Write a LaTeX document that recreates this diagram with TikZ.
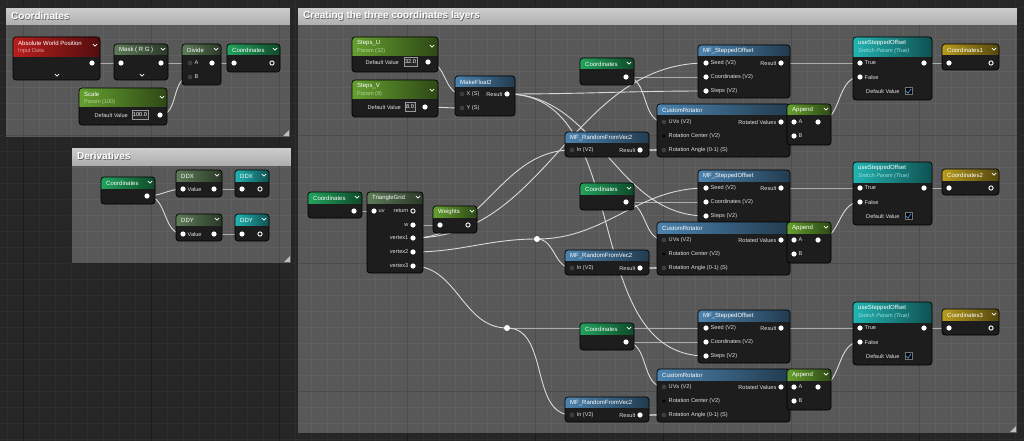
\documentclass[tikz,border=0pt]{standalone}
\usepackage{fontspec}
\setmainfont{Liberation Sans}
\definecolor{canvas}{HTML}{262626}
\definecolor{canvasgrid}{HTML}{2E2E2E}
\definecolor{canvasmajor}{HTML}{1C1C1C}
\definecolor{boxfill}{HTML}{585858}
\definecolor{boxgrid}{HTML}{606060}
\definecolor{boxmajor}{HTML}{4C4C4C}
\definecolor{titlebar}{HTML}{C2C2C2}
\definecolor{nodebg}{HTML}{1D1D1D}
\definecolor{wirecol}{HTML}{DADADA}
\definecolor{pinoff}{HTML}{3E3E3E}
\definecolor{hdred}{HTML}{B81E1E}
\definecolor{hdfunc}{HTML}{5E7C58}
\definecolor{hdcoord}{HTML}{22A35C}
\definecolor{hdparam}{HTML}{65A030}
\definecolor{hdblue}{HTML}{4C83AE}
\definecolor{hdteal}{HTML}{22B4B2}
\definecolor{hdgold}{HTML}{B89C1E}
\definecolor{checkblue}{HTML}{3D8FE0}

\tikzset{
  head/.style={anchor=west, inner sep=0pt, text=white, font=\fontsize{6}{7}\selectfont},
  subhead/.style={anchor=west, inner sep=0pt, font=\fontsize{5.6}{6}\selectfont},
  inl/.style={anchor=west, inner sep=0pt, text=white!88!black, font=\fontsize{5.6}{7}\selectfont},
  outl/.style={inl, anchor=east},
  valbox/.style={draw=white!60!black, fill=black!85, line width=0.4pt, inner sep=1pt,
    minimum height=9pt, text=white, font=\fontsize{5.6}{6}\selectfont},
  wire/.style={draw=wirecol, line width=0.9pt},
  link/.style={out=0, in=180},
  boxtitle/.style={anchor=west, inner sep=0pt, font=\fontsize{10}{12}\selectfont\bfseries},
}

% comment box: name, x1, y1, x2, y2, title
\newcommand{\uecomment}[6]{%
  \fill[boxfill] (#2,#3) rectangle (#4,#5);
  \begin{scope}
    \clip (#2,#3) rectangle (#4,#5);
    \foreach \gx in {7,23,...,1023} \draw[boxgrid, line width=0.4pt] (\gx,0) -- (\gx,441);
    \foreach \gy in {7,23,...,439} \draw[boxgrid, line width=0.4pt] (0,\gy) -- (1024,\gy);
    \foreach \gx in {23,151,...,1023} \draw[boxmajor, line width=0.6pt] (\gx,0) -- (\gx,441);
    \foreach \gy in {135,263,391} \draw[boxmajor, line width=0.6pt] (0,\gy) -- (1024,\gy);
  \end{scope}
  \shade[top color=titlebar!80!white, bottom color=titlebar!90!black] (#2,#3) rectangle (#4,#3+18);
  \draw[black!85, line width=1.2pt] (#2,#3) rectangle (#4,#5);
  \node[boxtitle, text=black!60] (#1-shadow) at (#2+6.7,#3+10) {#6};
  \node[boxtitle, text=white] (#1) at (#2+6,#3+9.3) {#6};
  \fill[white!75!black] (#4-2,#5-8) -- (#4-2,#5-2) -- (#4-8,#5-2) -- cycle;
}

% graph node: name, x1, y1, x2, y2, header bottom, colour, title
\newcommand{\uenode}[8]{%
  \fill[nodebg, rounded corners=3pt] (#2,#3) rectangle (#4,#5);
  \begin{scope}
    \clip[rounded corners=3pt] (#2,#3) rectangle (#4,#5);
    \shade[left color=#7, right color=#7!45!black] (#2,#3) rectangle (#4,#6);
  \end{scope}
  \draw[black, line width=0.7pt, rounded corners=3pt] (#2,#3) rectangle (#4,#5);
  \node[head] (#1) at (#2+5,#3+6) {#8};
}
\newcommand{\chev}[2]{\draw[white, line width=0.7pt] (#1-2.2,#2-1) -- (#1,#2+1.2) -- (#1+2.2,#2-1);}
\newcommand{\pinon}[1]{\fill[white] (#1) circle (2.6);}
\newcommand{\pinoff}[1]{\fill[pinoff] (#1) circle (2.4);}
\newcommand{\pinring}[1]{\draw[white, line width=0.9pt] (#1) circle (2.1);}
\newcommand{\inlabel}[2]{\node[inl] (#1-l) at ([xshift=4.5pt]#1) {#2};}
\newcommand{\outlabel}[2]{\node[outl] (#1-l) at ([xshift=-4.5pt]#1) {#2};}

\begin{document}
\begin{tikzpicture}[x=1pt, y=-1pt]
  \useasboundingbox (0,0) rectangle (1024,441);
  % canvas
  \fill[canvas] (0,0) rectangle (1024,441);
  \foreach \gx in {7,23,...,1023} \draw[canvasgrid, line width=0.4pt] (\gx,0) -- (\gx,441);
  \foreach \gy in {7,23,...,439} \draw[canvasgrid, line width=0.4pt] (0,\gy) -- (1024,\gy);
  \foreach \gx in {23,151,...,1023} \draw[canvasmajor, line width=0.6pt] (\gx,0) -- (\gx,441);

  % comment boxes
  \uecomment{grpcoord}{5}{7}{291}{138}{Coordinates}
  \uecomment{grpderiv}{71}{147}{292}{264}{Derivatives}
  \uecomment{grplayers}{297}{7}{1018}{434}{Creating the three coordinates layers}

  % pins
  \coordinate (awp-o) at (92,63);
  \coordinate (msk-i) at (121,63);
  \coordinate (msk-o) at (161,63);
  \coordinate (div-a) at (190,63);
  \coordinate (div-b) at (190,77);
  \coordinate (div-o) at (212,63);
  \coordinate (cdec-i) at (234,63);
  \coordinate (cdec-o) at (272,63);
  \coordinate (scl-o) at (160,115);

  \coordinate (cdx-o) at (147,196);
  \coordinate (ddx-i) at (183,189);
  \coordinate (ddx-o) at (214,189);
  \coordinate (rdx-i) at (242,189);
  \coordinate (rdx-o) at (260,189);
  \coordinate (ddy-i) at (183,234);
  \coordinate (ddy-o) at (214,234);
  \coordinate (rdy-i) at (242,234);
  \coordinate (rdy-o) at (260,234);

  \coordinate (su-o) at (428,62);
  \coordinate (sv-o) at (425,107);
  \coordinate (mf-x) at (462,94);
  \coordinate (mf-y) at (462,108);
  \coordinate (mf-o) at (507,94);
  \coordinate (cl-o) at (354,211);
  \coordinate (tg-uv) at (374,211);
  \coordinate (tg-ret) at (413,211);
  \coordinate (tg-w) at (413,225);
  \coordinate (tg-v1) at (413,238);
  \coordinate (tg-v2) at (413,252);
  \coordinate (tg-v3) at (413,266);
  \coordinate (wt-i) at (440,225);
  \coordinate (wt-o) at (468,225);
  \coordinate (rr1) at (537,239);
  \coordinate (rr2) at (507,328);

  \foreach \i/\ya/\yb in {1/0/0, 2/125/118, 3/265/265} {
    \coordinate (crd\i-o) at (626,77+\ya);
    \coordinate (so\i-seed) at (706,63+\ya);
    \coordinate (so\i-crd) at (706,77+\ya);
    \coordinate (so\i-stp) at (706,91+\ya);
    \coordinate (so\i-o) at (781,63+\ya);
    \coordinate (cr\i-uv) at (664,122+\yb);
    \coordinate (cr\i-cen) at (664,136+\yb);
    \coordinate (cr\i-ang) at (664,150+\yb);
    \coordinate (cr\i-o) at (781,122+\yb);
    \coordinate (ap\i-a) at (794,122+\yb);
    \coordinate (ap\i-b) at (794,136+\yb);
    \coordinate (ap\i-o) at (818,122+\yb);
    \coordinate (rn\i-i) at (572,150+\yb);
    \coordinate (rn\i-o) at (640,150+\yb);
    \coordinate (sw\i-t) at (860,63+\ya);
    \coordinate (sw\i-f) at (860,77+\ya);
    \coordinate (sw\i-o) at (924,63+\ya);
    \coordinate (oc\i-i) at (949,63+\ya);
    \coordinate (oc\i-o) at (991,63+\ya);
  }

  % wires
  \draw[wire] (awp-o) to[link] (msk-i);
  \draw[wire] (msk-o) to[link] (div-a);
  \draw[wire] (div-o) to[link] (cdec-i);
  \draw[wire] (scl-o) to[link] (div-b);
  \draw[wire] (cdx-o) to[link] (ddx-i);
  \draw[wire] (cdx-o) to[link] (ddy-i);
  \draw[wire] (ddx-o) to[link] (rdx-i);
  \draw[wire] (ddy-o) to[link] (rdy-i);
  \draw[wire] (su-o) to[link] (mf-x);
  \draw[wire] (sv-o) to[link] (mf-y);
  \draw[wire] (mf-o) to[link] (so1-stp);
  \draw[wire] (mf-o) to[link] (so2-stp);
  \draw[wire] (mf-o) to[link] (so3-stp);
  \draw[wire] (cl-o) to[link] (tg-uv);
  \draw[wire] (tg-w) to[link] (wt-i);
  \draw[wire] (tg-v1) to[link] (so1-seed);
  \draw[wire] (tg-v1) to[link] (rn1-i);
  \draw[wire] (tg-v2) to[link] (rr1);
  \draw[wire] (rr1) to[link] (so2-seed);
  \draw[wire] (rr1) to[link] (rn2-i);
  \draw[wire] (tg-v3) to[link] (rr2);
  \draw[wire] (rr2) to[link] (so3-seed);
  \draw[wire] (rr2) to[link] (rn3-i);
  \foreach \i in {1,2,3} {
    \draw[wire] (crd\i-o) to[link] (so\i-crd);
    \draw[wire] (crd\i-o) to[link] (cr\i-uv);
    \draw[wire] (rn\i-o) to[link] (cr\i-ang);
    \draw[wire] (rn\i-o) to[link] (ap\i-b);
    \draw[wire] (cr\i-o) to[link] (ap\i-a);
    \draw[wire] (so\i-o) to[link] (sw\i-t);
    \draw[wire] (ap\i-o) to[link] (sw\i-f);
    \draw[wire] (sw\i-o) to[link] (oc\i-i);
  }
  \fill[white] (rr1) circle (3);
  \fill[white] (rr2) circle (3);

  % Coordinates group
  \uenode{awp}{13}{37}{100}{80}{57}{hdred}{Absolute World Position}
  \node[subhead, text=hdred!45!white] (awp-sub) at (18,51) {Input Data};
  \chev{95}{45} \chev{57}{75}
  \pinon{awp-o}
  \uenode{msk}{114}{44}{168}{80}{55}{hdfunc}{Mask ( R G )}
  \chev{163}{49} \chev{142}{75}
  \pinon{msk-i} \pinon{msk-o}
  \uenode{dvd}{182}{44}{221}{85}{55}{hdfunc}{Divide}
  \chev{216}{49}
  \pinoff{div-a} \pinoff{div-b} \pinon{div-o}
  \inlabel{div-a}{A} \inlabel{div-b}{B}
  \uenode{cdec}{227}{44}{280}{72}{55}{hdcoord}{Coordinates}
  \chev{275}{49}
  \pinon{cdec-i} \pinring{cdec-o}
  \uenode{scl}{79}{88}{167}{125}{107}{hdparam}{Scale}
  \node[subhead, text=hdparam!50!white] (scl-sub) at (84,102) {Param (100)};
  \chev{162}{97}
  \node[valbox] (scl-v) at (140,115) {100.0};
  \node[outl] (scl-l) at (128,115) {Default Value};
  \pinon{scl-o}

  % Derivatives group
  \uenode{cdx}{101}{177}{155}{204}{188}{hdcoord}{Coordinates}
  \chev{150}{182}
  \pinon{cdx-o}
  \uenode{ddx}{176}{170}{222}{197}{181}{hdfunc}{DDX}
  \chev{217}{175}
  \pinon{ddx-i} \pinon{ddx-o} \inlabel{ddx-i}{Value}
  \uenode{rdx}{235}{170}{269}{197}{181}{hdteal}{DDX}
  \chev{264}{175}
  \pinon{rdx-i} \pinring{rdx-o}
  \uenode{ddy}{176}{214}{222}{241}{225}{hdfunc}{DDY}
  \chev{217}{219}
  \pinon{ddy-i} \pinon{ddy-o} \inlabel{ddy-i}{Value}
  \uenode{rdy}{235}{214}{269}{241}{225}{hdteal}{DDY}
  \chev{264}{219}
  \pinon{rdy-i} \pinring{rdy-o}

  % layers group
  \uenode{su}{352}{37}{438}{72}{56}{hdparam}{Steps\_U}
  \node[subhead, text=hdparam!50!white] (su-sub) at (357,51) {Param (32)};
  \chev{432}{46}
  \node[valbox] (su-v) at (410.5,62) {32.0};
  \node[outl] (su-l) at (399,62) {Default Value};
  \pinon{su-o}
  \uenode{sv}{352}{80}{438}{117}{99}{hdparam}{Steps\_V}
  \node[subhead, text=hdparam!50!white] (sv-sub) at (357,94) {Param (8)};
  \chev{432}{90}
  \node[valbox] (sv-v) at (410,107) {8.0};
  \node[outl] (sv-l) at (401,107) {Default Value};
  \pinon{sv-o}
  \uenode{mf}{455}{76}{515}{116}{87}{hdblue}{MakeFloat2}
  \pinoff{mf-x} \pinoff{mf-y} \pinon{mf-o}
  \inlabel{mf-x}{X (S)} \inlabel{mf-y}{Y (S)} \outlabel{mf-o}{Result}

  \uenode{cl}{308}{192}{362}{218}{203}{hdcoord}{Coordinates}
  \chev{357}{197}
  \pinon{cl-o}
  \uenode{tg}{367}{192}{423}{273}{203}{hdfunc}{TriangleGrid}
  \chev{418}{197}
  \pinon{tg-uv} \inlabel{tg-uv}{uv}
  \pinring{tg-ret} \outlabel{tg-ret}{return}
  \pinon{tg-w} \outlabel{tg-w}{w}
  \pinon{tg-v1} \outlabel{tg-v1}{vertex1}
  \pinon{tg-v2} \outlabel{tg-v2}{vertex2}
  \pinon{tg-v3} \outlabel{tg-v3}{vertex3}
  \uenode{wt}{433}{206}{477}{233}{217}{hdparam}{Weights}
  \chev{472}{211}
  \pinon{wt-i} \pinring{wt-o}

  \foreach \i/\ya/\yb in {1/0/0, 2/125/118, 3/265/265} {
    \uenode{crd\i}{580}{58+\ya}{634}{85+\ya}{69+\ya}{hdcoord}{Coordinates}
    \chev{629}{63+\ya}
    \pinon{crd\i-o}
    \uenode{so\i}{698}{45+\ya}{790}{98+\ya}{56+\ya}{hdblue}{MF\_SteppedOffset}
    \pinon{so\i-seed} \pinon{so\i-crd} \pinon{so\i-stp} \pinon{so\i-o}
    \inlabel{so\i-seed}{Seed (V2)} \inlabel{so\i-crd}{Coordinates (V2)}
    \inlabel{so\i-stp}{Steps (V2)} \outlabel{so\i-o}{Result}
    \uenode{rn\i}{565}{132+\yb}{649}{157+\yb}{142+\yb}{hdblue}{MF\_RandomFromVec2}
    \pinoff{rn\i-i} \pinon{rn\i-o}
    \inlabel{rn\i-i}{In (V2)} \outlabel{rn\i-o}{Result}
    \uenode{cr\i}{657}{104+\yb}{790}{157+\yb}{115+\yb}{hdblue}{CustomRotator}
    \pinoff{cr\i-uv} \fill[black] (cr\i-cen) circle (1.6); \pinoff{cr\i-ang} \pinon{cr\i-o}
    \inlabel{cr\i-uv}{UVs (V2)} \inlabel{cr\i-cen}{Rotation Center (V2)}
    \inlabel{cr\i-ang}{Rotation Angle (0-1) (S)} \outlabel{cr\i-o}{Rotated Values}
    \uenode{ap\i}{787}{104+\yb}{831}{145+\yb}{115+\yb}{hdparam}{Append}
    \chev{826}{109+\yb}
    \pinon{ap\i-a} \pinon{ap\i-b} \pinon{ap\i-o}
    \inlabel{ap\i-a}{A} \inlabel{ap\i-b}{B}
    \uenode{sw\i}{853}{37+\ya}{932}{100+\ya}{57+\ya}{hdteal}{useSteppedOffset}
    \node[subhead, text=hdteal!45!white, font=\fontsize{5.6}{6}\selectfont\itshape]
      (sw\i-sub) at (858,51+\ya) {Switch Param (True)};
    \pinon{sw\i-t} \pinon{sw\i-f} \pinon{sw\i-o}
    \inlabel{sw\i-t}{True} \inlabel{sw\i-f}{False}
    \node[inl] (sw\i-def) at (866,91+\ya) {Default Value};
    \draw[white!45!black, fill=black, line width=0.4pt] (905,87.5+\ya) rectangle (912,94.5+\ya);
    \draw[checkblue, line width=0.8pt] (906.3,91.3+\ya) -- (908,93.2+\ya) -- (911,88.8+\ya);
    \uenode{oc\i}{942}{44+\ya}{999}{70+\ya}{55+\ya}{hdgold}{Coordinates\i}
    \chev{994}{49+\ya}
    \pinon{oc\i-i} \pinring{oc\i-o}
  }
\end{tikzpicture}
\end{document}
